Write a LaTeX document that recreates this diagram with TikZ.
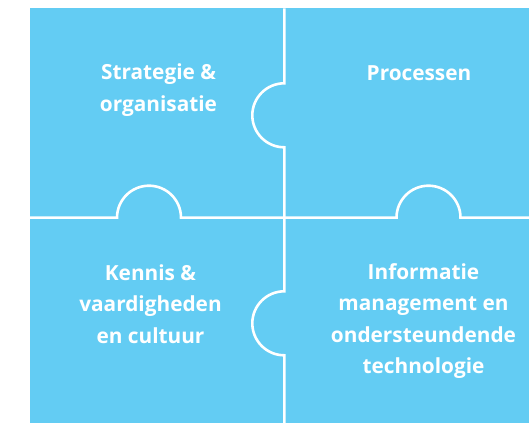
\documentclass[tikz,border=0pt]{standalone}
\usepackage{fontspec}
\setmainfont{Open Sans}
\definecolor{puzzleblue}{RGB}{99,204,243}

\begin{document}
\begin{tikzpicture}[x=1pt, y=1pt,
    label/.style={text=white, font=\bfseries\fontsize{20.8}{31.5}\selectfont, align=center, anchor=base},
    seam/.style={draw=white, line width=2.6pt}]
                \useasboundingbox (0,0) rectangle (529,423);
                % Background
                \fill[puzzleblue] (29.5,0) rectangle (529,414.5);

                % Seams
                \draw[seam] (284.3,414.5) -- (284.3,339.7) arc (90:270:32) -- (284.3,131.7) arc (90:270:32) -- (284.3,0);
                \draw[seam] (29.5,205.3) -- (117,205.3) arc (180:0:32) -- (396.5,205.3) arc (180:0:32) -- (529,205.3);

                % Labels (anchored at the base of the last line)
                \node[label] (strategy) at (158.5,311.5) {Strategie \&\\organisatie};
                \node[label] (process) at (419,342) {Processen};
                \node[label] (knowledge) at (150.5,80) {Kennis \&\\vaardigheden\\en cultuur};
                \node[label] (infomgmt) at (423.5,49.5) {Informatie\\management en\\ondersteundende\\technologie};
            \end{tikzpicture}
\end{document}
